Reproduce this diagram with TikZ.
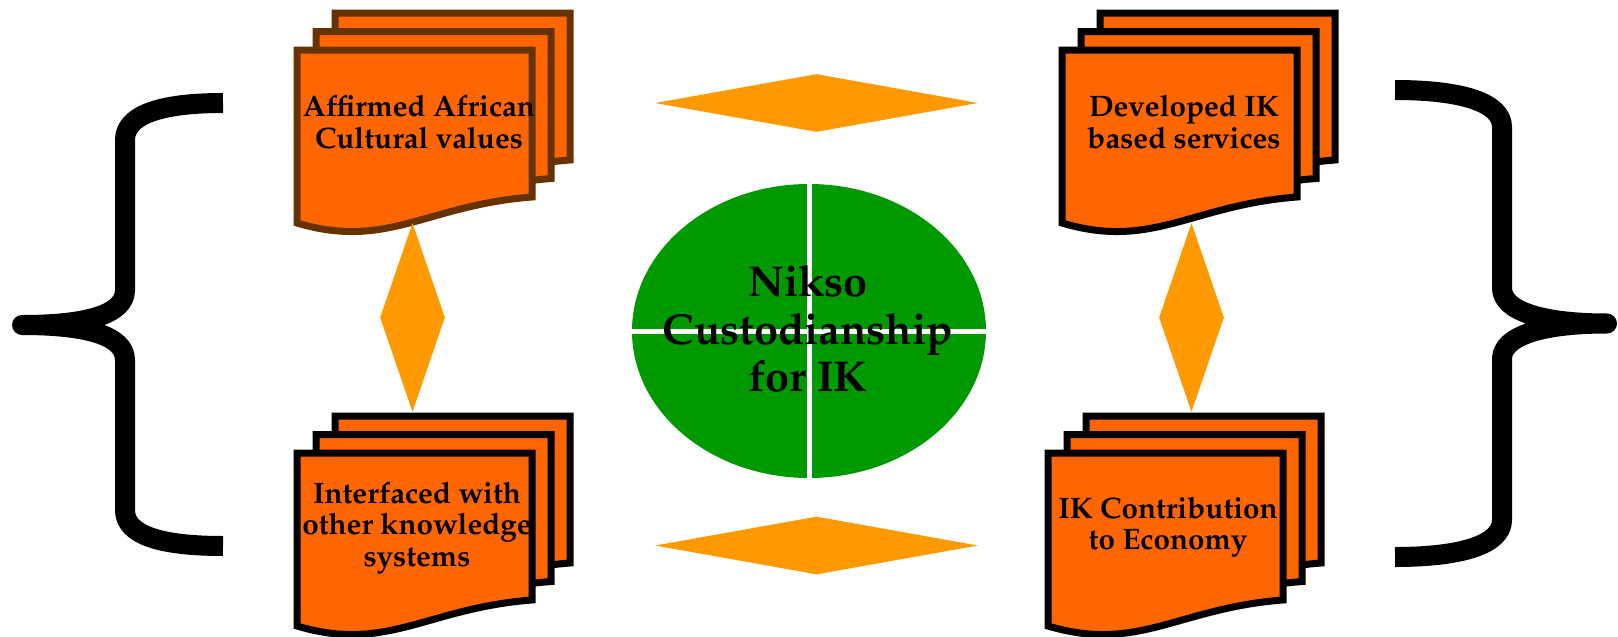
\documentclass[tikz,border=0pt]{standalone}
\usepackage[T1]{fontenc}
\renewcommand{\rmdefault}{ppl}
\usepackage{xcolor}
\usepackage{tikz}
\tikzset{>=latex}
\usetikzlibrary{shapes.geometric}

\definecolor{docorange}{HTML}{FF6600}
\definecolor{linkorange}{HTML}{FF9900}
\definecolor{leafgreen}{HTML}{009900}
\definecolor{docbrown}{HTML}{663300}

\tikzset{
    sheet/.style={fill=docorange, line width=3.5pt},
    doctext/.style={font=\bfseries\fontsize{14.8}{15.8}\selectfont, align=center, inner sep=0pt},
    linkh/.style={diamond, fill=linkorange, inner sep=0pt, minimum width=161.5pt, minimum height=29pt},
    linkv/.style={diamond, fill=linkorange, inner sep=0pt, minimum width=32.5pt, minimum height=94.5pt},
    brace/.style={line width=10pt, line cap=butt, line join=round},
}

\begin{document}
\begin{tikzpicture}[x=0.5pt, y=-0.5pt]

    \useasboundingbox (0,0) rectangle (1618,637);

    % Stacked documents
    \foreach \dx/\dy/\ink in {297/50/docbrown, 1062/50/black, 297/453/black, 1048/453/black}{
        \foreach \k in {2,1,0}{
            \filldraw[sheet, draw=\ink, shift={(\dx+19*\k,\dy-18.5*\k)}]
                (0,0) -- (235,0) -- (235,147) .. controls (130,155) and (90,200) .. (0,173) -- cycle;
        }
    }

    \node[doctext] (affirmed) at (419,122) {Affirmed African\\Cultural values};
    \node[doctext] (developed) at (1184,122) {Developed IK\\based services};
    \node[doctext] (interfaced) at (417,528) {Interfaced with\\other knowledge\\systems};
    \node[doctext] (contribution) at (1168,527) {IK Contribution\\to Economy};

    % Links
    \node[linkh] (linktop) at (816.5,103) {};
    \node[linkh] (linkbottom) at (816.5,545.5) {};
    \node[linkv] (linkleft) at (412.5,317.5) {};
    \node[linkv] (linkright) at (1191.5,317.5) {};

    % Centre
    \node[ellipse, fill=leafgreen, inner sep=0pt, minimum width=177pt, minimum height=147pt] (custody) at (809,331) {};
    \draw[white, line width=2.5pt] (custody.north) -- (custody.south);
    \draw[white, line width=2.5pt] (custody.west) -- (custody.east);
    \node[font=\bfseries\fontsize{21.6}{23.8}\selectfont, align=center, inner sep=0pt] (custodytext) at (808,329) {Nikso\\Custodianship\\for IK};

    % Braces
    \draw[brace] (223,103) .. controls (160,103) and (125,115) .. (125,140) -- (125,290)
        .. controls (125,315) and (85,325) .. (22,325)
        .. controls (85,325) and (125,335) .. (125,360) -- (125,510)
        .. controls (125,535) and (160,546) .. (223,546);
    \draw[brace] (1395,90) .. controls (1460,90) and (1502,102) .. (1502,127) -- (1502,288)
        .. controls (1502,312) and (1545,323.5) .. (1607,323.5)
        .. controls (1545,323.5) and (1502,335) .. (1502,359) -- (1502,520)
        .. controls (1502,545) and (1460,557) .. (1395,557);

\end{tikzpicture}
\end{document}
